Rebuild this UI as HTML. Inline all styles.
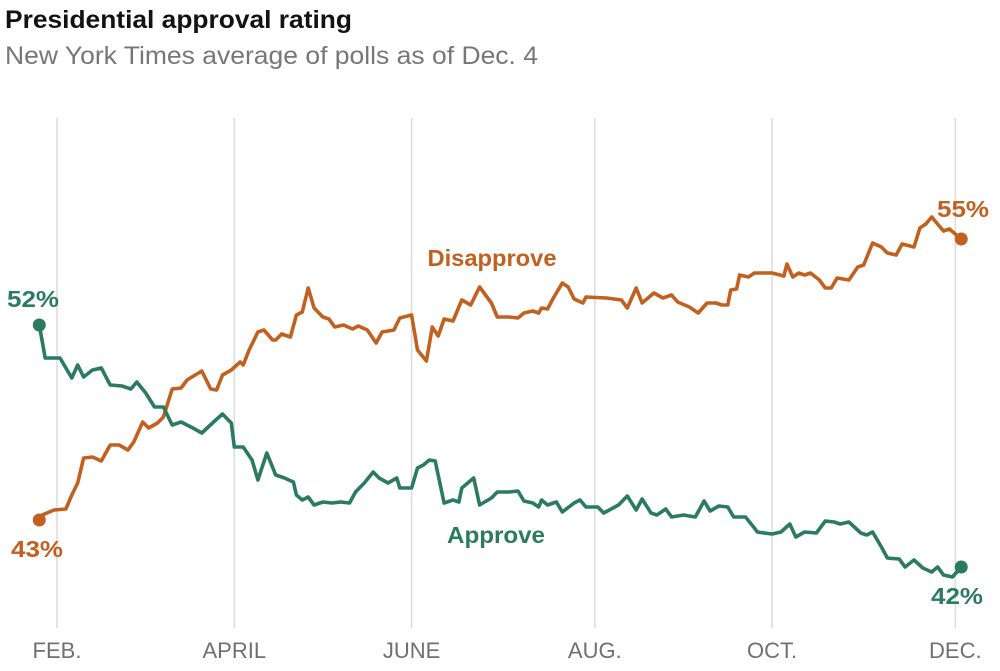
<!DOCTYPE html>
<html><head><meta charset="utf-8">
<style>
body{margin:0;background:#fff;font-family:"Liberation Sans",sans-serif;}
svg text{font-family:"Liberation Sans",sans-serif;}
</style></head>
<body>
<svg id="chart" width="1000" height="666" viewBox="0 0 1000 666" xmlns="http://www.w3.org/2000/svg">
<text x="5" y="28" font-size="25" font-weight="bold" fill="#121212" textLength="347" lengthAdjust="spacingAndGlyphs">Presidential approval rating</text>
<text x="5" y="64" font-size="25" fill="#777" textLength="533" lengthAdjust="spacingAndGlyphs">New York Times average of polls as of Dec. 4</text>
<g id="grid"></g>
<g id="lines"></g>
<text x="492" y="266" font-size="23.5" font-weight="bold" fill="#c2601f" text-anchor="middle" textLength="129" lengthAdjust="spacingAndGlyphs">Disapprove</text>
<text x="496" y="543" font-size="23.5" font-weight="bold" fill="#2b7b5e" text-anchor="middle" textLength="98" lengthAdjust="spacingAndGlyphs">Approve</text>
<text x="33" y="307" font-size="23" font-weight="bold" fill="#2b7b5e" text-anchor="middle" textLength="52" lengthAdjust="spacingAndGlyphs">52%</text>
<text x="37" y="557" font-size="23" font-weight="bold" fill="#c2601f" text-anchor="middle" textLength="52" lengthAdjust="spacingAndGlyphs">43%</text>
<text x="963" y="217" font-size="23" font-weight="bold" fill="#c2601f" text-anchor="middle" textLength="52" lengthAdjust="spacingAndGlyphs">55%</text>
<text x="957" y="604" font-size="23" font-weight="bold" fill="#2b7b5e" text-anchor="middle" textLength="52" lengthAdjust="spacingAndGlyphs">42%</text>
</svg>
<script>
const monthLabels=["FEB.","APRIL","JUNE","AUG.","OCT.","DEC."];
const monthDays=[0,60,120,182,242,304];
const approveDays=[-6,-4,1,5,7,9,12,15,18,22,25,27,30,33,36,39,42,46,49,53,56,59,60,63,66,68,71,74,77,80,81,83,85,87,90,93,96,99,101,104,107,109,112,115,116,120,122,124,126,128,131,134,136,137,141,143,147,149,153,156,158,161,163,164,166,169,171,175,177,179,183,185,190,193,196,198,201,203,206,208,212,216,219,221,224,227,229,233,236,237,242,245,248,250,253,257,260,263,265,268,272,274,276,279,281,285,287,290,293,296,298,300,303,306];
const approveValues=[51.68,50.36,50.36,49.56,50.08,49.60,49.88,49.96,49.28,49.24,49.12,49.40,48.96,48.40,48.40,47.68,47.80,47.56,47.36,47.80,48.12,47.76,46.80,46.80,46.28,45.48,46.56,45.68,45.56,45.40,44.88,44.68,44.80,44.48,44.60,44.56,44.60,44.56,45.00,45.36,45.80,45.56,45.36,45.56,45.16,45.16,45.96,46.08,46.28,46.24,44.56,44.68,44.60,45.16,45.56,44.48,44.76,45.00,45.00,45.04,44.64,44.56,44.40,44.68,44.48,44.60,44.20,44.56,44.68,44.40,44.40,44.16,44.48,44.84,44.28,44.72,44.16,44.08,44.32,44.00,44.08,44.00,44.64,44.24,44.44,44.40,44.00,44.00,43.56,43.40,43.32,43.40,43.72,43.20,43.40,43.36,43.84,43.80,43.72,43.80,43.36,43.28,43.40,42.80,42.36,42.32,42.00,42.28,41.96,41.80,42.00,41.68,41.60,42.00];
const disapproveDays=[-6,-5,-1,3,5,7,9,12,15,18,21,24,26,29,31,34,36,39,42,44,49,52,54,56,59,62,63,65,68,70,73,74,76,79,81,83,85,87,90,92,94,97,100,102,105,108,110,114,116,120,122,125,127,129,131,134,137,140,143,147,149,153,156,158,161,163,164,166,168,171,173,175,178,179,186,191,193,196,198,202,205,208,210,214,217,220,223,225,227,228,230,231,234,236,242,246,247,249,251,253,255,258,260,262,264,268,271,273,276,279,281,284,286,290,292,294,296,300,302,306];
const disapproveValues=[43.88,44.08,44.28,44.32,44.88,45.36,46.36,46.40,46.24,46.88,46.88,46.68,47.00,47.80,47.56,47.76,48.00,49.12,49.16,49.48,49.84,49.12,49.08,49.68,49.88,50.20,50.08,50.68,51.40,51.48,51.08,51.08,51.32,51.20,52.08,52.20,53.16,52.36,52.00,51.92,51.60,51.68,51.52,51.64,51.48,50.96,51.40,51.48,51.96,52.08,50.68,50.24,51.60,51.24,51.92,51.84,52.68,52.48,53.20,52.56,52.00,52.00,51.96,52.16,52.24,52.16,52.36,52.32,52.76,53.36,53.20,52.72,52.56,52.80,52.76,52.68,52.36,53.16,52.56,52.96,52.76,52.88,52.60,52.40,52.16,52.56,52.56,52.48,52.48,53.08,53.12,53.68,53.60,53.76,53.76,53.64,54.12,53.60,53.76,53.68,53.76,53.48,53.16,53.16,53.56,53.48,54.00,54.08,54.96,54.80,54.56,54.48,54.92,54.80,55.56,55.72,56.00,55.44,55.52,55.12];

const NS="http://www.w3.org/2000/svg";
function xScale(d){return 57+d*2.955;}
function yScale(v){return (64.68-v)*25;}
const grid=document.getElementById('grid');
const lines=document.getElementById('lines');
monthDays.forEach((d,i)=>{
  const l=document.createElementNS(NS,'line');
  
  
  l.setAttribute('x1',xScale(d));l.setAttribute('x2',xScale(d));
  l.setAttribute('y1',118);l.setAttribute('y2',628);
  l.setAttribute('stroke','#dcdcdc');l.setAttribute('stroke-width','1.5');
  grid.appendChild(l);
  const t=document.createElementNS(NS,'text');
  
  
  t.setAttribute('x',xScale(d));t.setAttribute('y',658);
  t.setAttribute('text-anchor','middle');t.setAttribute('font-size','22');
  t.setAttribute('fill','#707070');
  t.textContent=monthLabels[i];
  grid.appendChild(t);
});
function drawSeries(days,vals,color,name){
  const p=document.createElementNS(NS,'path');
  
  
  p.setAttribute('d',days.map((d,i)=>(i?'L':'M')+xScale(d).toFixed(1)+','+yScale(vals[i]).toFixed(1)).join(''));
  p.setAttribute('fill','none');p.setAttribute('stroke',color);
  p.setAttribute('stroke-width','3.6');p.setAttribute('stroke-linejoin','round');p.setAttribute('stroke-linecap','round');
  lines.appendChild(p);
  [0,days.length-1].forEach(i=>{
    const c=document.createElementNS(NS,'circle');
    
    
    c.setAttribute('cx',xScale(days[i]));c.setAttribute('cy',yScale(vals[i]));
    c.setAttribute('r',6.5);c.setAttribute('fill',color);
    lines.appendChild(c);
  });
}
drawSeries(disapproveDays,disapproveValues,'#c2601f','disapprove');
drawSeries(approveDays,approveValues,'#2b7b5e','approve');
</script>
</body></html>
